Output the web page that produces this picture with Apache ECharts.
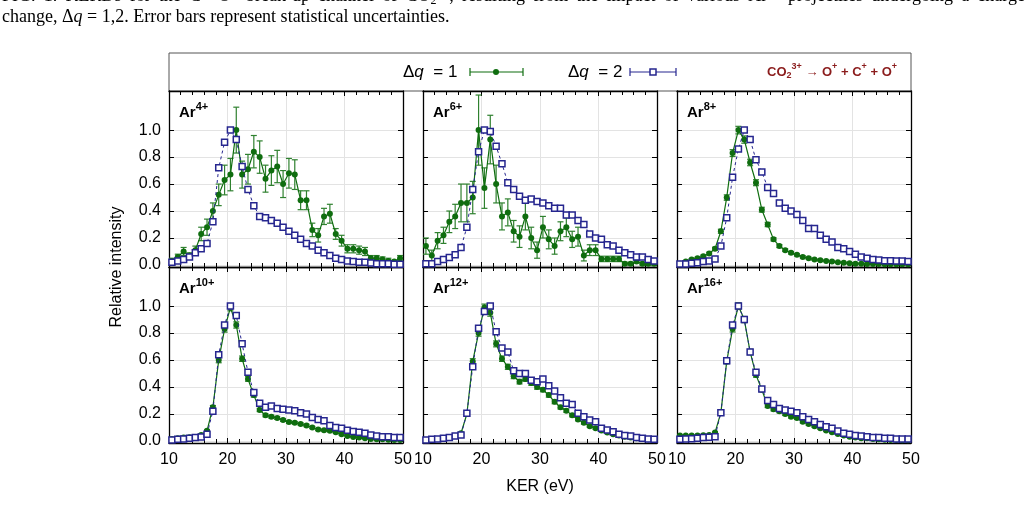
<!DOCTYPE html>
<html><head><meta charset="utf-8">
<script src="https://cdn.jsdelivr.net/npm/echarts@6/dist/echarts.min.js"></script>
<style>html,body{margin:0;padding:0;background:#fff}#c{width:1027px;height:522px}</style>
</head><body><div id="c"></div>
<script>
// ---------------- data ----------------
const KER = [10.5,11.5,12.5,13.5,14.5,15.5,16.5,17.5,18.5,19.5,20.5,21.5,22.5,23.5,24.5,25.5,26.5,27.5,28.5,29.5,30.5,31.5,32.5,33.5,34.5,35.5,36.5,37.5,38.5,39.5,40.5,41.5,42.5,43.5,44.5,45.5,46.5,47.5,48.5,49.5];
const X_TICKS = [10,20,30,40,50];
const Y_TICKS = [0,0.2,0.4,0.6,0.8,1.0];
const PANEL_LABELS = ['4+','6+','8+','10+','12+','16+'];

const ar4_dq1 = [0.03,0.06,0.10,0.07,0.11,0.23,0.28,0.40,0.52,0.63, 0.67,1.00,0.67,0.71,0.84,0.80,0.64,0.70,0.73,0.60, 0.68,0.67,0.48,0.48,0.26,0.22,0.36,0.38,0.23,0.18, 0.12,0.12,0.11,0.10,0.05,0.05,0.04,0.03,0.025,0.05];
const ar4_dq1_err = [0.02,0.02,0.03,0.02,0.03,0.05,0.06,0.06,0.08,0.11, 0.12,0.17,0.10,0.11,0.12,0.12,0.10,0.11,0.12,0.10, 0.11,0.11,0.07,0.07,0.05,0.05,0.06,0.07,0.04,0.04, 0.03,0.03,0.03,0.03,0.02,0.02,0.02,0.02,0.01,0.02];
const ar4_dq2 = [0.02,0.03,0.04,0.06,0.09,0.12,0.16,0.32,0.72,0.91, 1.00,0.93,0.73,0.56,0.44,0.36,0.35,0.33,0.31,0.28, 0.25,0.22,0.19,0.16,0.14,0.11,0.09,0.07,0.05,0.04, 0.03,0.025,0.02,0.02,0.015,0.01,0.01,0.01,0.005,0.005];

const ar6_dq1 = [0.14,0.07,0.18,0.22,0.32,0.36,0.46,0.46,0.50,1.00, 0.57,0.93,0.60,0.36,0.39,0.25,0.21,0.36,0.20,0.11, 0.28,0.19,0.14,0.25,0.28,0.19,0.21,0.07,0.11,0.11, 0.045,0.045,0.045,0.045,0.01,0.01,0.025,0.01,0.01,0.01];
const ar6_dq1_err = [0.06,0.04,0.06,0.06,0.08,0.09,0.14,0.14,0.12,0.26, 0.15,0.18,0.14,0.10,0.10,0.08,0.08,0.10,0.08,0.06, 0.08,0.07,0.06,0.07,0.07,0.06,0.07,0.04,0.04,0.04, 0.02,0.02,0.02,0.02,0.01,0.01,0.01,0.01,0.01,0.01];
const ar6_dq2 = [0.01,0.01,0.025,0.04,0.055,0.075,0.13,0.28,0.56,0.84, 1.00,0.99,0.88,0.75,0.61,0.56,0.51,0.48,0.49,0.47, 0.46,0.44,0.42,0.42,0.37,0.37,0.33,0.30,0.23,0.20, 0.19,0.15,0.14,0.11,0.09,0.075,0.06,0.06,0.04,0.03];

const ar8_dq1 = [0.01,0.025,0.04,0.05,0.065,0.085,0.12,0.25,0.50,0.83, 1.00,0.93,0.76,0.61,0.41,0.30,0.19,0.14,0.11,0.09, 0.075,0.06,0.05,0.04,0.035,0.03,0.025,0.02,0.017,0.012, 0.01,0.01,0.008,0.008,0.007,0.006,0.005,0.005,0.005,0.005];
const ar8_dq1_err = [0.004,0.005,0.006,0.007,0.008,0.009,0.011,0.015,0.02,0.025, 0.028,0.027,0.024,0.022,0.018,0.016,0.012,0.011,0.01,0.009, 0.008,0.008,0.007,0.006,0.006,0.005,0.005,0.004,0.004,0.004, 0.003,0.003,0.003,0.003,0.003,0.002,0.002,0.002,0.002,0.002];
const ar8_dq2 = [0.007,0.007,0.012,0.017,0.025,0.03,0.045,0.14,0.35,0.65, 0.86,1.00,0.93,0.78,0.69,0.575,0.53,0.46,0.42,0.40, 0.375,0.33,0.27,0.27,0.22,0.19,0.17,0.13,0.12,0.10, 0.08,0.06,0.05,0.04,0.037,0.032,0.032,0.03,0.03,0.025];

const ar10_dq1 = [0.015,0.02,0.025,0.027,0.03,0.045,0.075,0.25,0.60,0.83, 0.99,0.86,0.61,0.46,0.34,0.23,0.19,0.18,0.17,0.155, 0.14,0.135,0.125,0.115,0.10,0.085,0.08,0.075,0.065,0.05, 0.037,0.03,0.025,0.02,0.015,0.012,0.012,0.01,0.008,0.008];
const ar10_dq1_err = [0.003,0.004,0.004,0.004,0.005,0.006,0.008,0.013,0.02,0.023, 0.025,0.023,0.02,0.017,0.015,0.012,0.011,0.011,0.01,0.01, 0.01,0.009,0.009,0.009,0.008,0.008,0.007,0.007,0.007,0.006, 0.005,0.005,0.004,0.004,0.004,0.003,0.003,0.003,0.003,0.003];
const ar10_dq2 = [0.008,0.012,0.015,0.02,0.025,0.03,0.05,0.22,0.64,0.86, 1.00,0.93,0.72,0.51,0.36,0.28,0.25,0.26,0.24,0.235, 0.23,0.225,0.21,0.20,0.175,0.16,0.15,0.115,0.10,0.095, 0.08,0.07,0.065,0.057,0.045,0.037,0.032,0.032,0.025,0.025];

const ar12_dq1 = [0.008,0.012,0.015,0.02,0.025,0.037,0.057,0.20,0.59,0.80, 0.99,0.95,0.72,0.61,0.55,0.48,0.44,0.46,0.43,0.40, 0.38,0.34,0.29,0.25,0.225,0.19,0.16,0.135,0.11,0.095, 0.077,0.062,0.05,0.04,0.032,0.025,0.02,0.015,0.012,0.008];
const ar12_dq1_err = [0.003,0.003,0.004,0.004,0.004,0.005,0.007,0.012,0.02,0.023, 0.025,0.025,0.022,0.02,0.019,0.018,0.017,0.017,0.017,0.016, 0.015,0.015,0.014,0.013,0.012,0.011,0.01,0.01,0.009,0.008, 0.007,0.007,0.006,0.005,0.005,0.004,0.004,0.003,0.003,0.003];
const ar12_dq2 = [0.008,0.012,0.015,0.02,0.025,0.037,0.045,0.205,0.55,0.835, 0.96,1.00,0.81,0.69,0.66,0.52,0.50,0.50,0.45,0.44, 0.46,0.41,0.37,0.32,0.28,0.27,0.205,0.18,0.155,0.143, 0.094,0.081,0.069,0.049,0.04,0.037,0.025,0.02,0.015,0.012];

const ar16_dq1 = [0.04,0.04,0.04,0.04,0.042,0.045,0.062,0.21,0.59,0.83, 1.00,0.90,0.66,0.49,0.38,0.26,0.235,0.22,0.20,0.18, 0.17,0.143,0.126,0.11,0.094,0.077,0.064,0.052,0.04,0.032, 0.025,0.02,0.02,0.015,0.012,0.01,0.008,0.008,0.005,0.005];
const ar16_dq1_err = [0.005,0.005,0.005,0.005,0.005,0.005,0.006,0.011,0.018,0.022, 0.025,0.023,0.02,0.017,0.015,0.012,0.012,0.011,0.011,0.01, 0.01,0.009,0.009,0.008,0.007,0.007,0.006,0.006,0.005,0.005, 0.004,0.004,0.004,0.003,0.003,0.003,0.002,0.002,0.002,0.002];
const ar16_dq2 = [0.012,0.015,0.017,0.02,0.025,0.027,0.032,0.21,0.595,0.86, 1.00,0.90,0.66,0.51,0.385,0.30,0.27,0.24,0.23,0.22, 0.21,0.18,0.16,0.143,0.123,0.106,0.094,0.074,0.057,0.049, 0.04,0.037,0.032,0.025,0.025,0.02,0.02,0.015,0.015,0.015];

const DQ1 = [ar4_dq1, ar6_dq1, ar8_dq1, ar10_dq1, ar12_dq1, ar16_dq1];
const DQ1_ERR = [ar4_dq1_err, ar6_dq1_err, ar8_dq1_err, ar10_dq1_err, ar12_dq1_err, ar16_dq1_err];
const DQ2 = [ar4_dq2, ar6_dq2, ar8_dq2, ar10_dq2, ar12_dq2, ar16_dq2];

// ---------------- layout / style ----------------
const SANS = '"Liberation Sans", Arial, Helvetica, sans-serif';
const SERIF = '"Liberation Serif", "Times New Roman", serif';
const GREEN = '#0f6d0f';
const GREEN_ERR = '#2f812f';
const BLUE = '#26268f';
const LEFTS = [169, 423, 677];
const TOPS = [91, 267];
const W = 234, H = 176;
const YMIN = -0.015, YMAX = 1.29;

const mctx = document.createElement('canvas').getContext('2d');
function measure(t, f) { mctx.font = f; return mctx.measureText(t).width; }
function txt(x, y, t, f, fill, extra) {
  return Object.assign({type: 'text', x: x, y: y, silent: true, z: 100,
    style: {text: t, font: f, fill: fill, align: 'left', verticalAlign: 'middle', textAlign: 'left', textVerticalAlign: 'middle'}}, extra || {});
}
function run(x, y, parts, fill) {
  const els = []; let cx = x;
  parts.forEach(([t, f, dy]) => { els.push(txt(cx, y + (dy || 0), t, f, fill)); cx += measure(t, f); });
  return els;
}

const grid = [], xAxis = [], yAxis = [], series = [], graphic = [];

function errRender(params, api) {
  const x = api.value(0), y = api.value(1), e = api.value(2);
  const lo = api.coord([x, y - e]), hi = api.coord([x, y + e]);
  const w = 3;
  const st = {stroke: GREEN_ERR, lineWidth: 1.2};
  return {type: 'group', children: [
    {type: 'line', shape: {x1: lo[0], y1: lo[1], x2: hi[0], y2: hi[1]}, style: st},
    {type: 'line', shape: {x1: lo[0] - w, y1: lo[1], x2: lo[0] + w, y2: lo[1]}, style: st},
    {type: 'line', shape: {x1: hi[0] - w, y1: hi[1], x2: hi[0] + w, y2: hi[1]}, style: st}
  ]};
}

for (let i = 0; i < 6; i++) {
  const col = i % 3, row = Math.floor(i / 3);
  grid.push({left: LEFTS[col], top: TOPS[row], width: W, height: H, containLabel: false});
  const axLine = {show: true, onZero: false, lineStyle: {color: '#000', width: 1.3}};
  const baseX = {gridIndex: i, type: 'value', min: 10, max: 50, interval: 10,
    axisLine: axLine,
    axisTick: {show: true, inside: true, length: 5, lineStyle: {color: '#000', width: 1}},
    minorTick: {show: true, splitNumber: 5, length: 4, lineStyle: {color: '#000', width: 1}}};
  xAxis.push(Object.assign({}, baseX, {position: 'bottom',
    splitLine: {show: true, lineStyle: {color: '#e3e3e3', width: 1}},
    axisLabel: {show: row === 1, fontSize: 16, color: '#000', fontFamily: SANS, margin: 9,
      formatter: v => X_TICKS.includes(v) ? String(v) : ''}}));
  xAxis.push(Object.assign({}, baseX, {position: 'top', splitLine: {show: false}, axisLabel: {show: false}}));
  const baseY = {gridIndex: i, type: 'value', min: YMIN, max: YMAX,
    axisLine: axLine,
    axisTick: {show: true, inside: true, length: 5, customValues: Y_TICKS, lineStyle: {color: '#000', width: 1}}};
  yAxis.push(Object.assign({}, baseY, {position: 'left',
    splitLine: {show: true, lineStyle: {color: '#e3e3e3', width: 1}},
    axisLabel: {show: col === 0, fontSize: 16, color: '#000', fontFamily: SANS, margin: 8,
      customValues: Y_TICKS, formatter: v => v.toFixed(1)}}));
  yAxis.push(Object.assign({}, baseY, {position: 'right', splitLine: {show: false}, axisLabel: {show: false}}));

  const xi = 2 * i, yi = 2 * i;
  series.push({type: 'custom', xAxisIndex: xi, yAxisIndex: yi, silent: true, z: 3, clip: true,
    renderItem: errRender, data: KER.map((k, j) => [k, DQ1[i][j], DQ1_ERR[i][j]])});
  series.push({type: 'line', name: 'Δq = 1', xAxisIndex: xi, yAxisIndex: yi, z: 4, silent: true,
    symbol: 'circle', symbolSize: 6, showAllSymbol: true,
    itemStyle: {color: GREEN}, lineStyle: {color: GREEN, width: 1.2},
    data: KER.map((k, j) => [k, DQ1[i][j]])});
  series.push({type: 'line', name: 'Δq = 2', xAxisIndex: xi, yAxisIndex: yi, z: 5, silent: true,
    symbol: 'rect', symbolSize: 6, showAllSymbol: true,
    itemStyle: {color: '#ffffff', borderColor: BLUE, borderWidth: 1.5},
    lineStyle: {color: BLUE, width: 1, type: [3, 3]},
    data: KER.map((k, j) => [k, DQ2[i][j]])});

  // panel label Ar^{q+}
  const fa = 'bold 15px ' + SANS, fs = 'bold 11px ' + SANS;
  graphic.push(...run(LEFTS[col] + 10, TOPS[row] + 22, [['Ar', fa, 0], [PANEL_LABELS[i], fs, -6]], '#000'));
}

// legend box
graphic.push({type: 'rect', shape: {x: 169, y: 53, width: 742, height: 38}, z: -10, silent: true,
  style: {fill: 'none', stroke: '#555', lineWidth: 1}});
const fl = '17px ' + SANS, fli = 'italic 17px ' + SANS;
graphic.push(...run(403, 72, [['Δ', fl], ['q', fli], ['  = 1', fl]], '#000'));
graphic.push(...run(568, 72, [['Δ', fl], ['q', fli], ['  = 2', fl]], '#000'));
// legend samples
function capLine(x1, x2, y, color) {
  const st = {stroke: color, lineWidth: 1.2};
  return [
    {type: 'line', silent: true, z: 100, shape: {x1: x1, y1: y, x2: x2, y2: y}, style: st},
    {type: 'line', silent: true, z: 100, shape: {x1: x1, y1: y - 4, x2: x1, y2: y + 4}, style: st},
    {type: 'line', silent: true, z: 100, shape: {x1: x2, y1: y - 4, x2: x2, y2: y + 4}, style: st}
  ];
}
graphic.push(...capLine(470, 523, 72, GREEN));
graphic.push({type: 'circle', silent: true, z: 101, shape: {cx: 496, cy: 72, r: 3}, style: {fill: GREEN}});
graphic.push(...capLine(630, 676, 72, BLUE));
graphic.push({type: 'rect', silent: true, z: 101, shape: {x: 650, y: 69, width: 6, height: 6}, style: {fill: '#fff', stroke: BLUE, lineWidth: 1.5}});
// reaction label
const fr = 'bold 13px ' + SANS, frs = 'bold 9px ' + SANS;
graphic.push(...run(767, 72, [['CO', fr], ['2', frs, 4], ['3+', frs, -5], [' → O', fr], ['+', frs, -5], [' + C', fr], ['+', frs, -5], [' + O', fr], ['+', frs, -5]], '#8b1c1c'));

// axis titles
graphic.push(txt(117, 267, 'Relative intensity', '16px ' + SANS, '#000',
  {rotation: Math.PI / 2, style: {text: 'Relative intensity', font: '16px ' + SANS, fill: '#000', align: 'center', verticalAlign: 'middle', textAlign: 'center', textVerticalAlign: 'middle'}}));
graphic.push(txt(540, 487, 'KER (eV)', '16px ' + SANS, '#000',
  {style: {text: 'KER (eV)', font: '16px ' + SANS, fill: '#000', align: 'center', verticalAlign: 'middle', textAlign: 'center', textVerticalAlign: 'middle'}}));

// caption (cut at the top of the page)
const fc = '18px ' + SERIF, fci = 'italic 18px ' + SERIF, fcs = '12px ' + SERIF;
const words1 = [
  [['FIG.', fc]], [['1.', fc]], [['KERDs', fc]], [['for', fc]], [['the', fc]], [['C', fc], ['+', fcs, -6], ['+O', fc], ['+', fcs, -6]],
  [['break-up', fc]], [['channel', fc]], [['of', fc]], [['CO', fc], ['2', fcs, 5], ['3+', fcs, -6], [',', fc]],
  [['resulting', fc]], [['from', fc]], [['the', fc]], [['impact', fc]], [['of', fc]], [['various', fc]],
  [['Ar', fc], ['q+', fcs, -6]], [['projectiles', fc]], [['undergoing', fc]], [['a', fc]], [['charge', fc]]
];
(function () {
  const widths = words1.map(w => w.reduce((s, [t, f]) => s + measure(t, f), 0));
  const total = widths.reduce((a, b) => a + b, 0);
  const gap = (1025 - 2 - total) / (words1.length - 1);
  let x = 2;
  words1.forEach((w, k) => { graphic.push(...run(x, -4, w, '#000')); x += widths[k] + gap; });
})();
graphic.push(...run(2, 17, [['change, Δ', fc], ['q', fci], [' = 1,2. Error bars represent statistical uncertainties.', fc]], '#000'));

const chart = echarts.init(document.getElementById('c'), null, {renderer: 'canvas'});
chart.setOption({
  animation: false,
  backgroundColor: '#fff',
  textStyle: {fontFamily: SANS},
  grid: grid, xAxis: xAxis, yAxis: yAxis, series: series,
  graphic: {elements: graphic}
});
</script></body></html>
